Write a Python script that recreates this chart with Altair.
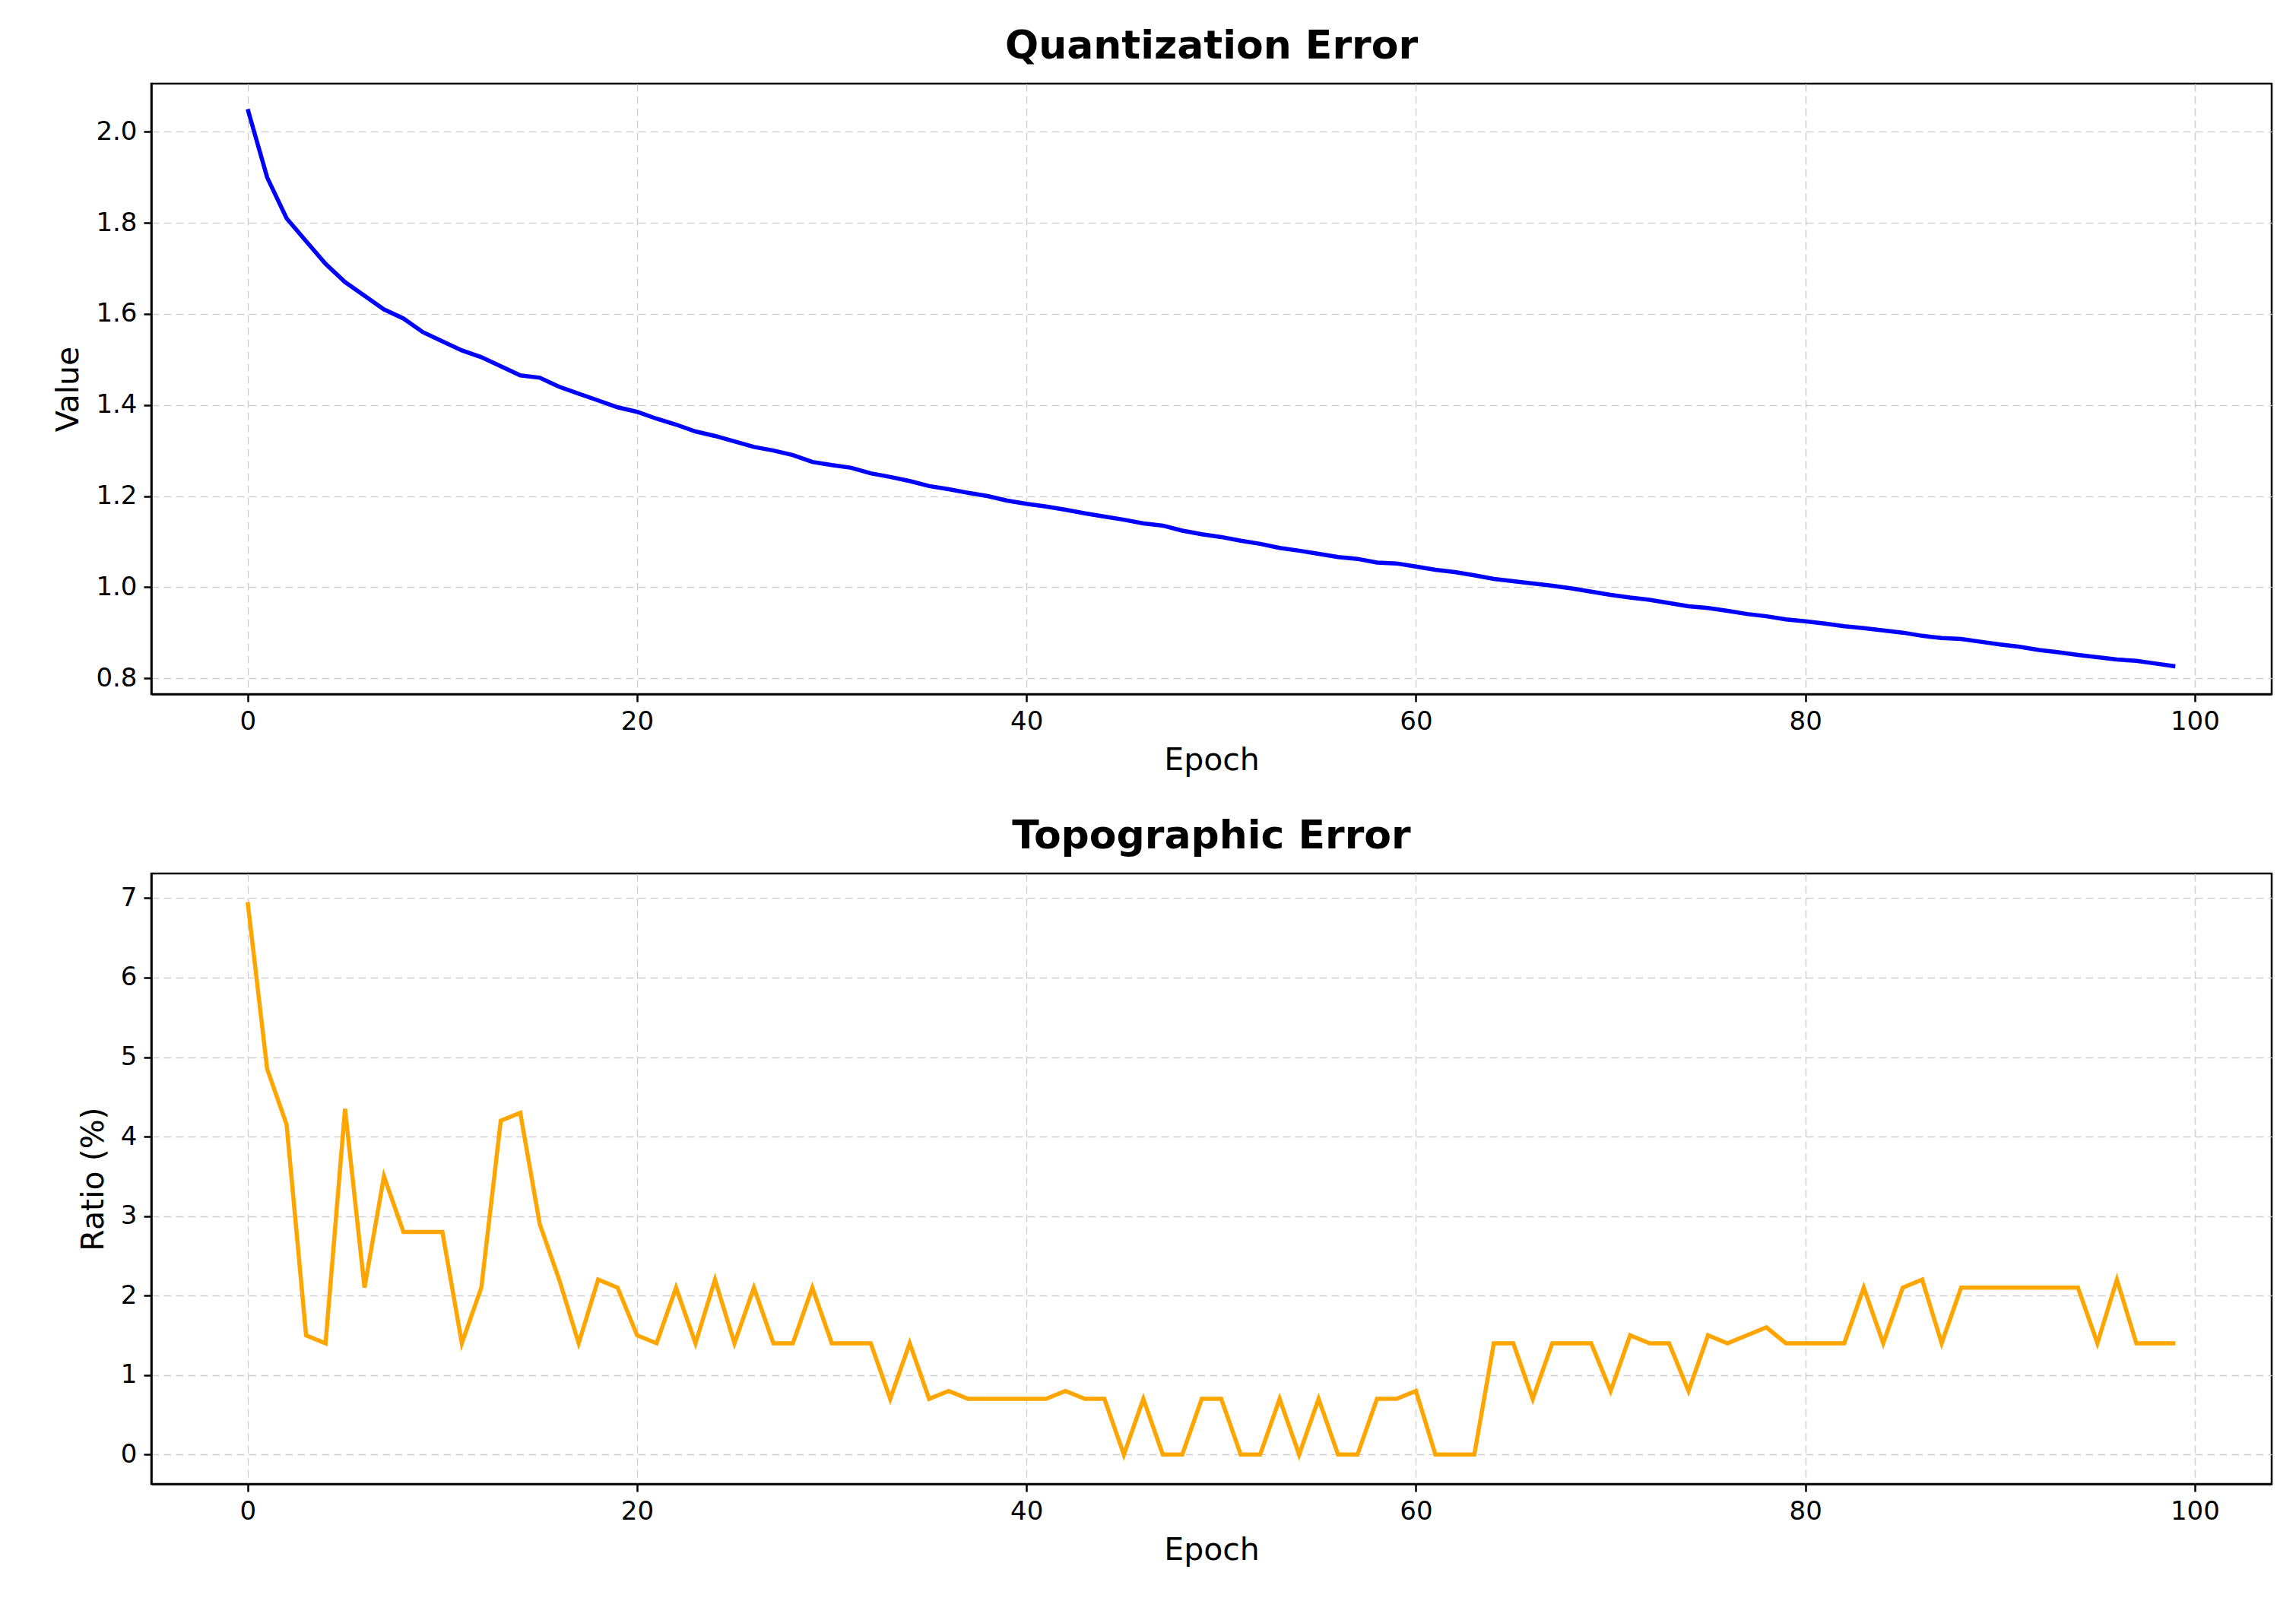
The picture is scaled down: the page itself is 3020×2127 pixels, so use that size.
import altair as alt
import pandas as pd

epochs = list(range(100))
quant_error = [
    2.05, 1.90, 1.81, 1.76, 1.71, 1.67, 1.64, 1.61, 1.59, 1.56,
    1.54, 1.52, 1.505, 1.485, 1.465, 1.46, 1.44, 1.425, 1.41, 1.395,
    1.385, 1.37, 1.357, 1.342, 1.332, 1.32, 1.308, 1.30, 1.29, 1.275,
    1.268, 1.262, 1.25, 1.242, 1.233, 1.222, 1.215, 1.207, 1.20, 1.19,
    1.183, 1.177, 1.17, 1.162, 1.155, 1.148, 1.14, 1.135, 1.124, 1.116,
    1.11, 1.102, 1.095, 1.086, 1.08, 1.073, 1.066, 1.062, 1.054, 1.052,
    1.045, 1.038, 1.033, 1.026, 1.018, 1.013, 1.008, 1.003, 0.997, 0.99,
    0.983, 0.977, 0.972, 0.965, 0.958, 0.954, 0.948, 0.941, 0.936, 0.929,
    0.925, 0.92, 0.914, 0.91, 0.905, 0.90, 0.893, 0.888, 0.886, 0.88,
    0.874, 0.869, 0.862, 0.857, 0.851, 0.846, 0.841, 0.838, 0.832, 0.826,
]
topo_error = [
    6.95, 4.85, 4.15, 1.5, 1.4, 4.35, 2.1, 3.5, 2.8, 2.8,
    2.8, 1.4, 2.1, 4.2, 4.3, 2.9, 2.2, 1.4, 2.2, 2.1,
    1.5, 1.4, 2.1, 1.4, 2.2, 1.4, 2.1, 1.4, 1.4, 2.1,
    1.4, 1.4, 1.4, 0.7, 1.4, 0.7, 0.8, 0.7, 0.7, 0.7,
    0.7, 0.7, 0.8, 0.7, 0.7, 0.0, 0.7, 0.0, 0.0, 0.7,
    0.7, 0.0, 0.0, 0.7, 0.0, 0.7, 0.0, 0.0, 0.7, 0.7,
    0.8, 0.0, 0.0, 0.0, 1.4, 1.4, 0.7, 1.4, 1.4, 1.4,
    0.8, 1.5, 1.4, 1.4, 0.8, 1.5, 1.4, 1.5, 1.6, 1.4,
    1.4, 1.4, 1.4, 2.1, 1.4, 2.1, 2.2, 1.4, 2.1, 2.1,
    2.1, 2.1, 2.1, 2.1, 2.1, 1.4, 2.2, 1.4, 1.4, 1.4,
]

df = pd.DataFrame({"Epoch": epochs, "Quant": quant_error, "Topo": topo_error})

W, H = 2789, 803
grid = dict(gridColor="#d0d0d0", gridDash=[10, 6], gridWidth=1.5)
x_enc = alt.X("Epoch:Q", title="Epoch",
              scale=alt.Scale(domain=[-4.95, 103.95], nice=False, zero=False),
              axis=alt.Axis(values=[0, 20, 40, 60, 80, 100], **grid))

top = alt.Chart(df).mark_line(color="#0000ff", strokeWidth=5.5).encode(
    x=x_enc,
    y=alt.Y("Quant:Q", title="Value",
            scale=alt.Scale(domain=[0.765, 2.106], nice=False, zero=False),
            axis=alt.Axis(values=[0.8, 1.0, 1.2, 1.4, 1.6, 1.8, 2.0], format=".1f", **grid)),
).properties(width=W, height=H, title="Quantization Error")

bottom = alt.Chart(df).mark_line(color="#ffa500", strokeWidth=5.5).encode(
    x=x_enc,
    y=alt.Y("Topo:Q", title="Ratio (%)",
            scale=alt.Scale(domain=[-0.37, 7.31], nice=False, zero=False),
            axis=alt.Axis(values=list(range(8)), **grid)),
).properties(width=W, height=H, title="Topographic Error")

chart = alt.vconcat(top, bottom, spacing=50).configure_axis(
    labelFont="DejaVu Sans", labelFontSize=34, labelColor="black",
    titleFont="DejaVu Sans", titleFontSize=41, titleFontWeight="normal", titleColor="black",
    domainColor="black", domainWidth=2.5, tickColor="black", tickWidth=2.5, tickSize=10,
    labelPadding=9, titlePadding=14,
).configure_title(
    font="DejaVu Sans", fontSize=52, fontWeight="bold", color="black", offset=22,
).configure_view(stroke="black", strokeWidth=2.5).properties(padding={"left": 60, "top": 25, "right": 20, "bottom": 10})

chart.save("out.html", embed_options={"renderer": "svg", "actions": False})
